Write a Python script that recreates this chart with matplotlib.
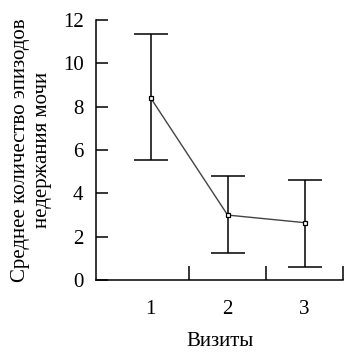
import matplotlib.pyplot as plt

# Mean number of incontinence episodes per visit, with error bars
visits = [1, 2, 3]
means = [8.4, 3.0, 2.65]
upper = [11.35, 4.8, 4.63]
lower = [5.52, 1.25, 0.62]

err_low = [m - l for m, l in zip(means, lower)]
err_high = [u - m for m, u in zip(means, upper)]

plt.rcParams['font.family'] = ['Liberation Serif', 'DejaVu Serif']

fig = plt.figure(figsize=(3.57, 3.61), dpi=100)
ax = fig.add_axes([0.269, 0.224, 0.692, 0.721])

ax.errorbar(visits, means, yerr=[err_low, err_high], fmt='none',
            ecolor='black', elinewidth=1.1, capsize=12, capthick=1.1)
ax.plot(visits, means, color='#444444', lw=1.0, marker='s', ms=3.5,
        mfc='white', mec='black', mew=0.9, zorder=3)

ax.set_xlim(0.29, 3.5)
ax.set_ylim(0, 12)
ax.set_yticks([0, 2, 4, 6, 8, 10, 12])

# separator ticks between the visits, labels on the visits themselves
ax.set_xticks([1.5, 2.5, 3.5])
ax.set_xticklabels([])
ax.set_xticks(visits, minor=True)
ax.set_xticklabels([str(v) for v in visits], minor=True)
ax.tick_params(axis='x', which='major', direction='in', length=10, width=1.1)
ax.tick_params(axis='x', which='minor', length=0, pad=14, labelsize=15)
ax.tick_params(axis='y', direction='in', length=8.5, width=1.1, pad=9, labelsize=15)

for s in ['top', 'right']:
    ax.spines[s].set_visible(False)
for s in ['left', 'bottom']:
    ax.spines[s].set_linewidth(1.1)

ax.set_xlabel('Визиты', fontsize=15, labelpad=10)
ax.set_ylabel('Среднее количество эпизодов\nнедержания мочи', fontsize=15,
              labelpad=8, linespacing=1.2)

fig.savefig('out.png', dpi=100)
